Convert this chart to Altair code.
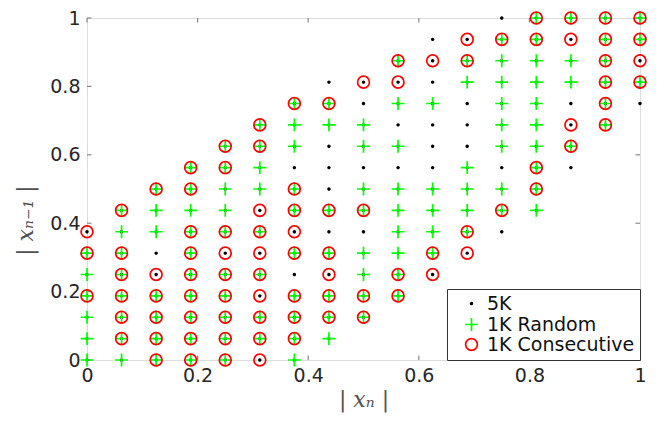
import altair as alt
import pandas as pd

# Grid coordinates (|x_n| and |x_{n-1}| are multiples of 1/16)
X_VALUES = [0, 0.0625, 0.125, 0.1875, 0.25, 0.3125, 0.375, 0.4375, 0.5,
            0.5625, 0.625, 0.6875, 0.75, 0.8125, 0.875, 0.9375, 1]
Y_VALUES = [0, 0.0625, 0.125, 0.1875, 0.25, 0.3125, 0.375, 0.4375, 0.5,
            0.5625, 0.625, 0.6875, 0.75, 0.8125, 0.875, 0.9375, 1]

# One string per x column, one character per y row (bottom to top):
# '-' nothing, 'd' 5K only, 'r' 5K + 1K Random,
# 'c' 5K + 1K Consecutive, 'b' 5K + 1K Random + 1K Consecutive
COLUMN_CODES = [
    "rrrbrbc----------",
    "rbbbbbrb---------",
    "bbbbcdrrb--------",
    "bbbbbbbrbb-------",
    "bbbbbcbrrbb------",
    "cbbcbcbcrrbb-----",
    "rbbbdbcbbdrrb----",
    "-rbbcbdbdddrbd---",
    "--bbrrdbrdrrdc---",
    "---bbrrrrdrdrcb--",
    "----cbrrrdddrdcd-",
    "-----cbrrrdddrbc-",
    "------dbrdrrrrrbd",
    "-------rbbrrrrrbb",
    "---------dbcdrrcb",
    "-----------bbbbbb",
    "------------dbcbb",
]

SERIES = ["5K", "1K Random", "1K Consecutive"]
TICK_VALUES = [0, 0.2, 0.4, 0.6, 0.8, 1]

records = []
for ci, col in enumerate(COLUMN_CODES):
    for rj, code in enumerate(col):
        if code == "-":
            continue
        xv, yv = X_VALUES[ci], Y_VALUES[rj]
        records.append({"x": xv, "y": yv, "series": SERIES[0]})
        if code in "rb":
            records.append({"x": xv, "y": yv, "series": SERIES[1]})
        if code in "cb":
            records.append({"x": xv, "y": yv, "series": SERIES[2]})
df = pd.DataFrame(records)
ticks_df = pd.DataFrame({"t": TICK_VALUES})

PLUS = "M-1,0L1,0M0,-1L0,1"
FONT = "DejaVu Sans"
LABEL_COLOR = "#262626"
GRAY = "#8a8a8a"
W, H = 553, 342

xscale = alt.Scale(domain=[0, 1], nice=False, zero=False)
yscale = alt.Scale(domain=[0, 1], nice=False, zero=False)

x_axis = alt.Axis(values=TICK_VALUES, format="~g", ticks=False, tickSize=0,
                  domain=False, grid=False, labelFlush=False,
                  labelPadding=6, labelFont=FONT, labelFontSize=19,
                  labelColor=LABEL_COLOR, title="| xₙ |",
                  titleFont="DejaVu Serif", titleFontStyle="italic",
                  titleFontWeight="normal", titleFontSize=22,
                  titleColor="#505050", titlePadding=4)
y_axis = alt.Axis(values=TICK_VALUES, format="~g", ticks=False, tickSize=0,
                  domain=False, grid=False, labelFlush=False,
                  labelPadding=7, labelFont=FONT, labelFontSize=19,
                  labelColor=LABEL_COLOR, title="| xₙ₋₁ |",
                  titleFont="DejaVu Serif", titleFontStyle="italic",
                  titleFontWeight="normal", titleFontSize=22,
                  titleColor="#505050", titlePadding=12,
                  titleY=H / 2 + 31)

legend = alt.Legend(title=None, orient="bottom-right", offset=0,
                    padding=5, fillColor="white", strokeColor="#333333",
                    labelFont=FONT, labelFontSize=19, labelColor="#111111",
                    labelOffset=6, rowPadding=0, symbolOffset=10,
                    symbolStrokeWidth=1.7)

base = alt.Chart(df).encode(
    x=alt.X("x:Q", scale=xscale, axis=x_axis),
    y=alt.Y("y:Q", scale=yscale, axis=y_axis),
    shape=alt.Shape("series:N", scale=alt.Scale(domain=SERIES, range=["circle", PLUS, "circle"]), legend=legend),
    stroke=alt.Stroke("series:N", scale=alt.Scale(domain=SERIES, range=["#000000", "#00ff00", "#ff0000"]), legend=legend),
    fill=alt.Fill("series:N", scale=alt.Scale(domain=SERIES, range=["#000000", "transparent", "transparent"]), legend=legend),
    size=alt.Size("series:N", scale=alt.Scale(type="ordinal", domain=SERIES, range=[3, 165, 140]), legend=legend),
)

layers = []
for s in SERIES:
    layers.append(
        base.transform_filter(alt.datum.series == s)
        .mark_point(strokeWidth=1.7, opacity=1)
    )

tick_base = alt.Chart(ticks_df)
tick_len = 4.5
tick_layers = [
    tick_base.mark_rule(color=GRAY, strokeWidth=1.2).encode(
        x=alt.X("t:Q", scale=xscale, axis=x_axis), y=alt.value(H), y2=alt.value(H - tick_len)),
    tick_base.mark_rule(color=GRAY, strokeWidth=1.2).encode(
        x=alt.X("t:Q", scale=xscale, axis=x_axis), y=alt.value(0), y2=alt.value(tick_len)),
    tick_base.mark_rule(color=GRAY, strokeWidth=1.2).encode(
        y=alt.Y("t:Q", scale=yscale, axis=y_axis), x=alt.value(0), x2=alt.value(tick_len)),
    tick_base.mark_rule(color=GRAY, strokeWidth=1.2).encode(
        y=alt.Y("t:Q", scale=yscale, axis=y_axis), x=alt.value(W), x2=alt.value(W - tick_len)),
]

chart = alt.layer(*tick_layers, *layers).properties(
    width=W, height=H,
    autosize=alt.AutoSizeParams(type="none"),
    padding={"left": 79, "top": 10, "right": 16, "bottom": 60},
).configure_view(stroke=GRAY, strokeWidth=1.3).configure(background="white")

chart.save("out.html", embed_options={"renderer": "svg", "actions": False})
